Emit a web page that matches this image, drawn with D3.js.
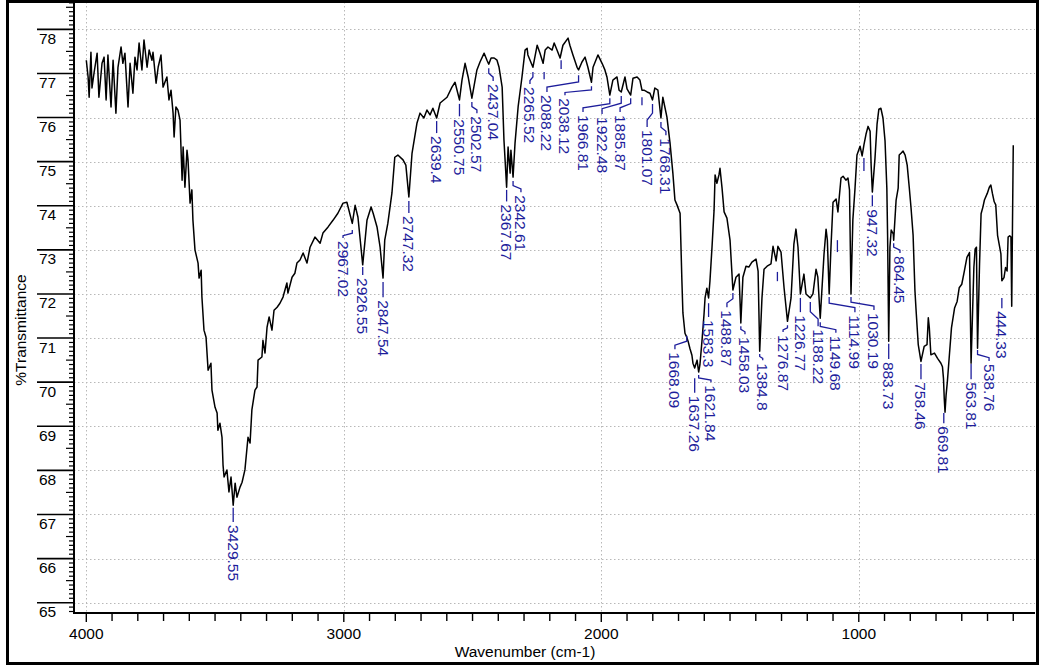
<!DOCTYPE html>
<html>
<head>
<meta charset="utf-8">
<script src="https://d3js.org/d3.v7.min.js"></script>
<style>
  body { margin: 0; background: #fff; }
  svg { display: block; font-family: "Liberation Sans", Arial, sans-serif; }
</style>
</head>
<body>
<svg width="1042" height="668"></svg>
<script>
// spectrum (cm-1, %T)
const wavenumber = [
  4000,3993,3989,3982,3978,3970,3958,3951,3939,3931,3923,3916,3904,3896,3885,3877,3865,3858,3850,3838,
  3830,3819,3811,3803,3795,3784,3776,3764,3756,3745,3741,3729,3721,3710,3702,3687,3679,3671,3663,3659,
  3652,3644,3636,3628,3624,3617,3609,3605,3597,3590,3586,3578,3566,3562,3554,3551,3543,3535,3527,3516,
  3512,3500,3492,3489,3481,3473,3469,3465,3454,3446,3438,3429.55,3422,3415,3403,3395,3384,3372,3364,3357,
  3345,3337,3333,3318,3314,3306,3298,3290,3279,3271,3259,3248,3236,3221,3217,3201,3190,3182,3170,3158,
  3143,3131,3112,3092,3081,3061,3042,3023,3003,2988,2967.02,2956,2945,2926.55,2910,2894,2886,2871,2859,2847.54,
  2841,2829,2813,2802,2790,2770,2759,2747.32,2735,2716,2704,2689,2677,2665,2654,2639.4,2626,2599,2580,2568,
  2550.75,2541,2529,2517,2502.57,2483,2471,2455,2444,2437.04,2428,2416,2405,2397,2385,2378,2367.67,2362,2354,2351,
  2342.61,2335,2323,2308,2296,2288,2285,2265.52,2249,2238,2226,2218,2207,2191,2183,2172,2160,2149,2129,2122,
  2110,2094,2088.22,2075,2063,2052,2038.12,2032,2013,1997,1986,1978,1966.81,1955,1939,1931,1922.48,1908,1900,1885.87,
  1877,1861,1850,1842,1834,1822,1811,1801.07,1792,1780,1768.31,1761,1745,1733,1722,1714,1706,1694,1687,1683,
  1675,1668.09,1663,1656,1648,1644,1637.26,1628,1621.84,1617,1609,1601,1597,1590,1583.3,1578,1570,1562,1558,1551,
  1543,1539,1531,1523,1512,1500,1488.87,1477,1465,1458.03,1450,1438,1427,1415,1399,1391,1384.8,1376,1368,1356,
  1341,1333,1321,1314,1302,1290,1276.87,1263,1252,1244,1236,1226.77,1213,1205,1188.22,1178,1166,1159,1149.68,1135,
  1127,1122,1114.99,1108,1100,1088,1081,1069,1061,1050,1042,1036,1030.19,1023,1015,1007,995,987,980,972,
  964,956,952,947.32,937,929,922,914,906,898,891,888,883.73,879,874,866,864.45,855,847,843,
  836,828,820,812,804,797,789,782,778,769,758.46,746,735,730,726,720,706,694,681,675,
  671,668,665,661,656,650,640,628,618,610,600,590,580,570,563.81,553,548,543,538.76,531,
  525,518,512,501,493,487,481,474,468,461,448,444.33,436,430,424,420,414,409,406,403,
  400
];
const transmittance = [
  77.30,76.92,76.46,77.48,76.67,77.01,77.46,76.46,77.23,77.37,76.40,77.42,76.24,77.30,76.10,77.14,77.60,77.23,77.46,76.24,
  77.23,76.55,77.37,77.08,77.69,77.08,77.76,77.14,77.53,77.30,77.48,76.78,77.14,77.42,76.69,76.92,76.40,76.62,76.10,75.56,
  76.24,76.17,75.94,74.58,75.33,74.42,75.26,75.04,74.06,74.36,73.68,73.00,72.70,72.36,72.54,71.93,71.18,71.02,70.27,70.43,
  69.82,69.43,69.30,68.91,69.07,68.75,68.12,67.85,68.01,67.51,67.85,67.21,67.71,67.39,67.62,67.73,68.01,68.75,68.62,69.37,
  69.82,69.89,70.50,70.57,70.95,70.66,71.25,71.48,71.18,71.63,71.70,71.79,71.93,72.25,72.02,72.38,72.47,72.70,72.77,72.93,
  72.70,73.06,73.29,73.15,73.38,73.52,73.67,73.83,74.06,74.08,73.60,74.01,73.74,72.66,73.67,73.97,73.83,73.52,73.06,72.36,
  73.22,73.60,74.29,75.10,75.15,75.04,74.92,74.20,75.19,75.87,76.10,75.99,76.17,76.06,76.21,75.99,76.33,76.46,76.69,76.80,
  76.40,76.85,77.23,76.92,76.44,77.08,77.26,77.46,77.30,77.21,77.35,77.35,77.30,77.14,76.69,75.49,74.42,75.33,74.74,75.26,
  74.65,75.42,76.24,76.92,77.53,77.57,77.42,77.14,77.64,77.46,77.23,77.53,77.60,77.53,77.69,77.53,77.35,77.64,77.80,77.64,
  77.42,77.14,77.08,77.26,77.37,77.14,76.80,77.14,77.42,77.23,77.08,76.92,76.51,76.85,76.92,76.62,76.58,76.92,76.65,76.51,
  76.89,76.92,76.85,76.62,76.62,76.58,76.55,76.40,76.67,76.62,75.99,76.46,76.01,75.42,74.74,74.13,74.02,73.83,72.31,71.57,
  71.11,71.02,70.93,70.77,70.61,70.43,70.32,70.50,70.23,70.39,70.93,71.54,71.91,72.13,71.91,72.29,73.06,73.90,74.70,74.51,
  74.70,74.85,74.40,73.86,73.72,73.22,72.09,72.38,72.45,71.34,72.38,72.63,72.61,72.72,72.79,72.52,70.70,71.91,72.56,72.63,
  72.68,73.08,72.75,73.08,72.95,72.13,71.38,71.91,73.13,73.47,73.06,72.00,72.45,72.00,71.91,72.00,72.56,72.38,71.45,72.90,
  73.47,73.22,72.00,73.06,74.08,74.15,73.86,74.63,74.67,74.58,74.63,74.36,72.00,73.68,74.36,75.15,75.35,75.13,75.38,75.62,
  75.80,75.69,74.92,74.31,75.08,75.85,76.19,76.21,75.99,75.47,74.40,73.30,70.93,73.06,73.45,73.36,73.22,74.13,74.40,75.15,
  75.19,75.24,75.15,74.92,74.42,73.95,73.33,72.09,71.68,70.85,70.47,70.81,70.85,71.46,71.23,70.62,70.66,70.54,70.43,70.35,
  70.08,69.63,69.32,69.70,70.01,70.47,71.23,71.68,71.83,72.14,72.22,72.52,72.83,72.94,70.43,72.60,73.02,73.06,70.77,72.68,
  73.82,73.97,74.13,74.28,74.42,74.47,74.28,74.09,74.02,73.33,72.91,72.30,72.37,72.60,72.52,73.29,73.32,73.29,71.72,73.60,
  75.37
];

// labelled peaks: [peak cm-1, leader top %T, label column cm-1 (null = at peak), label top %T]
const peakLabels = [
  [3429.55, 67.15, null, 66.76],
  [2967.02, 73.45, 3003, 73.20],
  [2926.55, 72.61, null, 72.36],
  [2847.54, 72.27, null, 71.86],
  [2747.32, 74.11, null, 73.77],
  [2639.4, 75.92, null, 75.58],
  [2550.75, 76.31, null, 75.96],
  [2502.57, 76.35, 2483, 76.03],
  [2437.04, 77.12, 2420, 76.76],
  [2367.67, 74.36, null, 74.03],
  [2342.61, 74.56, 2312, 74.24],
  [2265.52, 77.03, 2277, 76.69],
  [2088.22, 76.96, 2211, 76.51],
  [2038.12, 76.71, 2141, 76.44],
  [1966.81, 76.44, 2071, 76.06],
  [1922.48, 76.49, 1997, 76.01],
  [1885.87, 76.44, 1927, 76.06],
  [1801.07, 76.31, 1822, 75.72],
  [1768.31, 75.90, 1749, 75.53],
  [1668.09, 71.05, 1714, 70.68],
  [1637.26, 70.09, null, 69.69],
  [1621.84, 70.16, 1574, 69.93],
  [1583.3, 71.79, null, 71.41],
  [1488.87, 72.02, 1512, 71.63],
  [1458.03, 71.27, 1442, 71.02],
  [1384.8, 70.64, 1373, 70.43],
  [1276.87, 71.29, 1294, 71.07],
  [1226.77, 71.91, null, 71.52],
  [1188.22, 71.82, 1158, 71.20],
  [1149.68, 71.36, 1089, 71.05],
  [1114.99, 71.93, 1015, 71.52],
  [1030.19, 71.93, 941, 71.57],
  [947.32, 74.24, null, 73.92],
  [883.73, 70.87, null, 70.46],
  [864.45, 73.15, 840, 72.86],
  [758.46, 70.41, null, 70.00],
  [669.81, 69.30, null, 69.00],
  [563.81, 70.41, null, 70.00],
  [538.76, 70.73, 494, 70.41],
  [444.33, 71.91, null, 71.61]
];
// peak markers without a label: [cm-1, top %T, bottom %T]
const peakStubs = [
  [2222, 77.03, 76.87], [2156, 77.30, 77.10], [1842, 76.46, 76.28],
  [1316, 72.50, 72.29], [1083, 73.22, 72.95], [980, 75.08, 74.79]
];

const xLabelTicks = [4000, 3000, 2000, 1000];
const xMinorTicks = d3.range(4000, 399, -100);
const yLabelTicks = d3.range(65, 79);

const svg = d3.select("svg");
const plot = { left: 74, right: 1035, top: 2, bottom: 613 };
const blue = "#1d1d9b";

const x = d3.scaleLinear().domain([4047.8, 315.6]).range([plot.left, plot.right]);
const y = d3.scaleLinear().domain([64.766, 78.62]).range([plot.bottom, plot.top]);

svg.append("defs").append("clipPath").attr("id", "clip")
  .append("rect").attr("x", plot.left).attr("y", plot.top)
  .attr("width", plot.right - plot.left).attr("height", plot.bottom - plot.top);

// grid
const grid = svg.append("g").attr("stroke", "#b8b8b8").attr("stroke-width", 1)
  .attr("stroke-dasharray", "1.5,2.5");
grid.selectAll(".gy").data(yLabelTicks).enter().append("line")
  .attr("x1", plot.left).attr("x2", plot.right)
  .attr("y1", d => Math.round(y(d)) + 0.5).attr("y2", d => Math.round(y(d)) + 0.5);
grid.selectAll(".gx").data(xLabelTicks).enter().append("line")
  .attr("y1", plot.top).attr("y2", plot.bottom)
  .attr("x1", d => Math.round(x(d)) + 0.5).attr("x2", d => Math.round(x(d)) + 0.5);

// y axis: minor every 0.1, long rule at integers
const yAxis = svg.append("g").attr("stroke", "#000");
const yMinor = d3.range(648, 787).map(v => v / 10);
yAxis.selectAll("line.m").data(yMinor).enter().append("line")
  .attr("x1", d => plot.left - (Math.round(d * 10) % 10 === 0 ? 37 : (Math.round(d * 10) % 5 === 0 ? 8 : 5)))
  .attr("x2", plot.left)
  .attr("y1", d => y(d)).attr("y2", d => y(d))
  .attr("stroke-width", d => Math.round(d * 10) % 10 === 0 ? 1.6 : 1.2);
yAxis.append("line").attr("x1", plot.left).attr("x2", plot.left)
  .attr("y1", 0).attr("y2", plot.bottom + 1).attr("stroke-width", 2);
svg.append("g").selectAll("text").data(yLabelTicks).enter().append("text")
  .attr("x", 39).attr("y", d => y(d) + 14.5)
  .attr("font-size", 15.5).text(d => d);

// x axis
const xAxis = svg.append("g").attr("stroke", "#000");
xAxis.selectAll("line").data(xMinorTicks).enter().append("line")
  .attr("x1", d => x(d)).attr("x2", d => x(d))
  .attr("y1", plot.bottom).attr("y2", d => plot.bottom + (d % 1000 === 0 ? 9 : 8))
  .attr("stroke-width", 1.4);
xAxis.append("line").attr("x1", plot.left - 1).attr("x2", plot.right)
  .attr("y1", plot.bottom).attr("y2", plot.bottom).attr("stroke-width", 2);
svg.append("g").selectAll("text").data(xLabelTicks).enter().append("text")
  .attr("x", d => x(d)).attr("y", 639).attr("text-anchor", "middle")
  .attr("font-size", 15.5).text(d => d);

svg.append("text").attr("transform", "translate(26,330) rotate(-90)")
  .attr("text-anchor", "middle").attr("font-size", 15.5).text("%Transmittance");
svg.append("text").attr("x", 525).attr("y", 657)
  .attr("text-anchor", "middle").attr("font-size", 15.5).text("Wavenumber (cm-1)");

// spectrum
const spectrum = wavenumber.map((w, i) => ({ w, t: transmittance[i] }));
const line = d3.line().x(d => x(d.w)).y(d => y(d.t));
svg.append("path").datum(spectrum)
  .attr("clip-path", "url(#clip)")
  .attr("fill", "none").attr("stroke", "#000").attr("stroke-width", 1.5)
  .attr("stroke-linejoin", "round")
  .attr("d", line);

// peak labels
const labels = svg.append("g");
const leader = d3.line();
labels.selectAll("path.lead").data(peakLabels).enter().append("path")
  .attr("fill", "none").attr("stroke", blue).attr("stroke-width", 1.3)
  .attr("d", d => {
    const px = x(d[0]), lx = x(d[2] === null ? d[0] : d[2]);
    const y0 = y(d[1]), y1 = y(d[3]) - 3;
    if (Math.abs(px - lx) < 1.5) return leader([[px, y0], [px, y1]]);
    const ya = y0 + (y1 - y0) * 0.4, yb = y0 + (y1 - y0) * 0.7;
    return leader([[px, y0], [px, ya], [lx, yb], [lx, y1]]);
  });
labels.selectAll("text").data(peakLabels).enter().append("text")
  .attr("transform", d => `translate(${x(d[2] === null ? d[0] : d[2])},${y(d[3])}) rotate(90)`)
  .attr("dominant-baseline", "central")
  .attr("font-size", 15.5).attr("fill", blue)
  .text(d => d[0]);
labels.selectAll("line.stub").data(peakStubs).enter().append("line")
  .attr("stroke", blue).attr("stroke-width", 1.3)
  .attr("x1", d => x(d[0])).attr("x2", d => x(d[0]))
  .attr("y1", d => y(d[1])).attr("y2", d => y(d[2]));

// outer frame
svg.append("rect").attr("x", 7.5).attr("y", 1.5).attr("width", 1030).attr("height", 662)
  .attr("fill", "none").attr("stroke", "#000").attr("stroke-width", 3);
</script>
</body>
</html>
